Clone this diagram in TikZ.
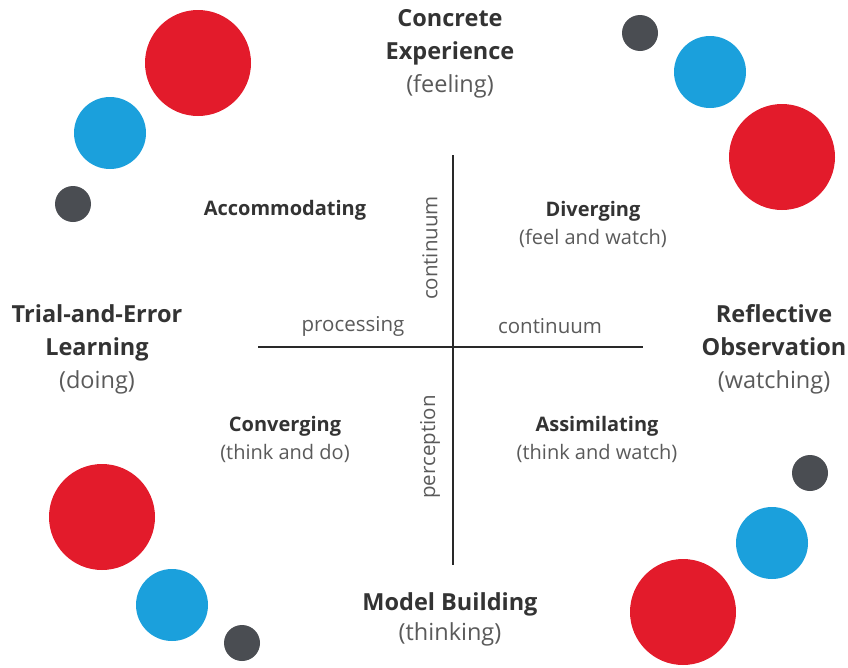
\documentclass[tikz,border=0pt]{standalone}
\usepackage{fontspec}
\setmainfont{Open Sans}
\usetikzlibrary{positioning}

\definecolor{dotred}{HTML}{E31B2B}
\definecolor{dotblue}{HTML}{1BA0DC}
\definecolor{dotgray}{HTML}{4A4D52}
\definecolor{titlegray}{HTML}{333333}
\definecolor{subgray}{HTML}{5A5A5A}
\newcommand{\kolbsub}[1]{{\mdseries\color{subgray}#1}}

\begin{document}
\begin{tikzpicture}[
    x=1pt, y=-1pt,
    pole/.style={align=center, text=titlegray, inner sep=0pt,
                 font=\fontsize{23.5}{33}\selectfont\bfseries},
    quad/.style={align=center, text=titlegray, inner sep=0pt,
                 font=\fontsize{20}{28}\selectfont\bfseries},
    axislbl/.style={text=subgray, inner sep=0pt, font=\fontsize{20.5}{22}\selectfont},
    axis/.style={line width=2.5pt, draw=titlegray!80!black},
    dot/.style={circle, inner sep=0pt, draw=none},
    bigdot/.style={dot, fill=dotred, minimum size=106pt},
    middot/.style={dot, fill=dotblue, minimum size=72pt},
    smalldot/.style={dot, fill=dotgray, minimum size=36pt},
]
\useasboundingbox (0,0) rectangle (848,667);

% Dots
\node[bigdot]   (tlr) at (198,63) {};
\node[middot]   (tlb) at (110,133) {};
\node[smalldot] (tlg) at (73,204) {};
\node[smalldot] (trg) at (640,33) {};
\node[middot]   (trb) at (710,72) {};
\node[bigdot]   (trr) at (782,157) {};
\node[bigdot]   (blr) at (102,517) {};
\node[middot]   (blb) at (172,605) {};
\node[smalldot] (blg) at (242,643) {};
\node[smalldot] (brg) at (810,473) {};
\node[middot]   (brb) at (772,543) {};
\node[bigdot]   (brr) at (683,612) {};

% Axes
\coordinate (vtop) at (453,155);
\coordinate (vbot) at (453,565);
\coordinate (hleft) at (258,347);
\coordinate (hright) at (643,347);
\draw[axis] (vtop) -- (vbot);
\draw[axis] (hleft) -- (hright);

% Axis labels
\node[axislbl] (proc) at (353,326) {processing};
\node[axislbl] (hcont) at (550,326) {continuum};
\node[axislbl, rotate=90] (vcont) at (430,248) {continuum};
\node[axislbl, rotate=90] (perc) at (430,447) {perception};

% Poles
\node[pole] (ce) at (450,54) {Concrete\\Experience\\\kolbsub{(feeling)}};
\node[pole] (te) at (97,349) {Trial-and-Error\\Learning\\\kolbsub{(doing)}};
\node[pole] (ro) at (774,349) {Reflective\\Observation\\\kolbsub{(watching)}};
\node[pole, font=\fontsize{23.5}{30}\selectfont\bfseries] (mb) at (450,619) {Model Building\\\kolbsub{(thinking)}};

% Quadrants
\node[quad] (acc) at (285,210) {Accommodating};
\node[quad] (div) at (593,224) {Diverging\\\kolbsub{(feel and watch)}};
\node[quad] (con) at (285,439) {Converging\\\kolbsub{(think and do)}};
\node[quad] (ass) at (597,439) {Assimilating\\\kolbsub{(think and watch)}};

\end{tikzpicture}
\end{document}
